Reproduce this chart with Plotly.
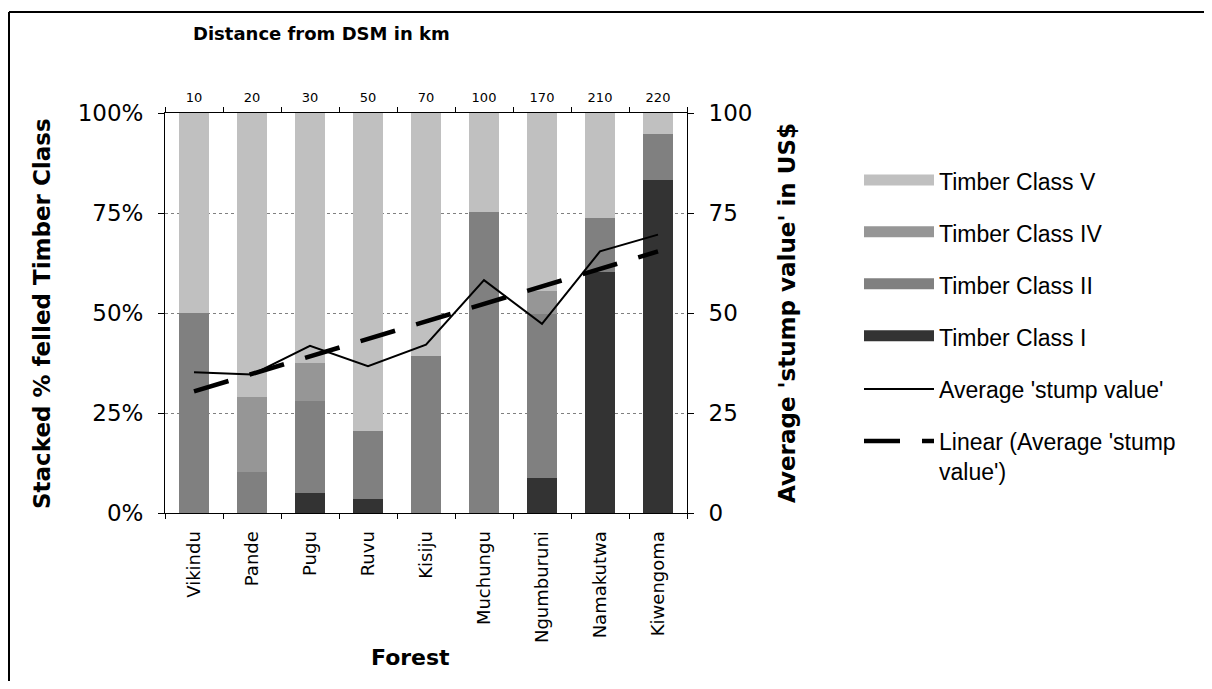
import plotly.graph_objects as go

forests = ["Vikindu", "Pande", "Pugu", "Ruvu", "Kisiju", "Muchungu",
           "Ngumburuni", "Namakutwa", "Kiwengoma"]
distance_km = ["10", "20", "30", "50", "70", "100", "170", "210", "220"]

class_I = [0, 0, 5.0, 3.4, 0, 0, 8.7, 60.2, 83.3]
class_II = [50.0, 10.2, 23.0, 17.2, 39.2, 75.3, 41.1, 13.5, 11.4]
class_IV = [0, 18.7, 9.5, 0, 0, 0, 5.6, 0, 0]
class_V = [50.0, 71.1, 62.5, 79.4, 60.8, 24.7, 44.6, 26.3, 5.3]

avg_stump = [35.2, 34.6, 41.8, 36.7, 42.1, 58.2, 47.3, 65.4, 69.6]
trend_forests = ["Vikindu", "Kiwengoma"]
trend_values = [30.4, 65.4]

pct_ticks = [0, 25, 50, 75, 100]
pct_labels = ["0%", "25%", "50%", "75%", "100%"]
usd_labels = ["0", "25", "50", "75", "100"]

colors = {"I": "#333333", "II": "#808080", "IV": "#969696", "V": "#C0C0C0"}

# page has an 8px body margin; figure sized so the page fits the window
OFF = 8
W, H = 1212 - 2 * OFF, 689 - 2 * OFF
# plot box in screen pixels
L, R, T, B = 165, 687, 113, 513


def px_x(p):
    return (p - L) / (R - L)


def px_y(p):
    return (B - p) / (B - T)


fig = go.Figure()

# legend-only entries (wide swatches like the original)
legend_items = [("Timber Class V", colors["V"]), ("Timber Class IV", colors["IV"]),
                ("Timber Class II", colors["II"]), ("Timber Class I", colors["I"])]
for i, (nm, c) in enumerate(legend_items):
    fig.add_trace(go.Scatter(x=[None], y=[None], mode="lines", name=nm, fill="toself",
                             fillcolor=c, line=dict(color=c, width=10), legendgroup=nm,
                             legendrank=i + 1, hoverinfo="skip"))

for nm, vals, key in [("Timber Class I", class_I, "I"), ("Timber Class II", class_II, "II"),
                      ("Timber Class IV", class_IV, "IV"), ("Timber Class V", class_V, "V")]:
    fig.add_trace(go.Bar(x=forests, y=vals, name=nm,
                         marker=dict(color=colors[key], line=dict(width=0)),
                         showlegend=False, legendgroup=nm))

fig.add_trace(go.Scatter(x=forests, y=avg_stump, mode="lines", name="Average 'stump value'",
                         line=dict(color="black", width=2), xaxis="x2", yaxis="y2",
                         legendgroup="avg", legendrank=5))
fig.add_trace(go.Scatter(x=trend_forests, y=trend_values, mode="lines",
                         name="Linear (Average 'stump<br>value')",
                         line=dict(color="black", width=4.5, dash="36px,22px"),
                         xaxis="x2", yaxis="y2", legendgroup="lin", legendrank=6))

tickfont_big = dict(family="DejaVu Sans", size=23, color="black")

fig.update_layout(
    width=W, height=H,
    margin=dict(l=L - OFF, r=W - (R - OFF), t=T - OFF, b=H - (B - OFF), autoexpand=False),
    paper_bgcolor="white", plot_bgcolor="white",
    barmode="stack", bargap=0.49,
    showlegend=True,
    legend=dict(x=px_x(859), y=px_y(160), xanchor="left", yanchor="top",
                font=dict(family="Liberation Sans", size=23, color="black"),
                itemwidth=70, traceorder="grouped", tracegroupgap=19,
                valign="top", bgcolor="rgba(0,0,0,0)"),
    xaxis=dict(type="category", categoryorder="array", categoryarray=forests,
               range=[-0.5, 8.5], tickson="boundaries", ticks="outside", ticklen=5,
               tickcolor="black", showline=True, linecolor="black", linewidth=1,
               tickangle=-90, tickfont=dict(family="DejaVu Sans", size=18, color="black"),
               showgrid=False, zeroline=False, ticklabelstandoff=10),
    xaxis2=dict(type="category", categoryorder="array", categoryarray=forests,
                overlaying="x", side="top", anchor="y", range=[-0.5, 8.5],
                tickmode="array", tickvals=forests, ticktext=distance_km,
                tickson="boundaries", ticks="outside", ticklen=5, tickcolor="black",
                showline=True, linecolor="black", linewidth=1,
                tickfont=dict(family="DejaVu Sans", size=13, color="black"),
                showgrid=False, zeroline=False, ticklabelstandoff=5),
    yaxis=dict(range=[0, 100], tickmode="array", tickvals=pct_ticks, ticktext=pct_labels,
               ticks="outside", ticklen=6, tickcolor="black", showline=True,
               linecolor="black", linewidth=1, tickfont=tickfont_big,
               showgrid=True, gridcolor="#808080", gridwidth=1, griddash="dot",
               zeroline=False, ticklabelstandoff=10),
    yaxis2=dict(range=[0, 100], tickmode="array", tickvals=pct_ticks, ticktext=usd_labels,
                overlaying="y", side="right", anchor="x", ticks="outside", ticklen=6,
                tickcolor="black", showline=True, linecolor="black", linewidth=1,
                tickfont=tickfont_big, showgrid=False, zeroline=False,
                ticklabelstandoff=10),
    annotations=[
        dict(text="<b>Distance from DSM in km</b>", xref="paper", yref="paper",
             x=px_x(321), y=px_y(33), xanchor="center", yanchor="middle", showarrow=False,
             font=dict(family="DejaVu Sans", size=18, color="black")),
        dict(text="<b>Forest</b>", xref="paper", yref="paper",
             x=px_x(410), y=px_y(657), xanchor="center", yanchor="middle", showarrow=False,
             font=dict(family="DejaVu Sans", size=22, color="black")),
        dict(text="<b>Stacked % felled Timber Class</b>", xref="paper", yref="paper",
             x=px_x(42), y=px_y(314), xanchor="center", yanchor="middle",
             showarrow=False, textangle=-90,
             font=dict(family="DejaVu Sans", size=23, color="black")),
        dict(text="<b>Average 'stump value' in US$</b>", xref="paper", yref="paper",
             x=px_x(787), y=px_y(313), xanchor="center", yanchor="middle",
             showarrow=False, textangle=-90,
             font=dict(family="DejaVu Sans", size=23, color="black")),
    ],
    shapes=[
        # outer chart frame (only the top and left edges fall inside the window)
        dict(type="line", xref="paper", yref="paper",
             x0=px_x(9), x1=px_x(1240), y0=px_y(12), y1=px_y(12),
             line=dict(color="black", width=2), layer="above"),
        dict(type="line", xref="paper", yref="paper",
             x0=px_x(9), x1=px_x(9), y0=px_y(12), y1=px_y(720),
             line=dict(color="black", width=2), layer="above"),
    ],
)

fig.write_html("out.html")
